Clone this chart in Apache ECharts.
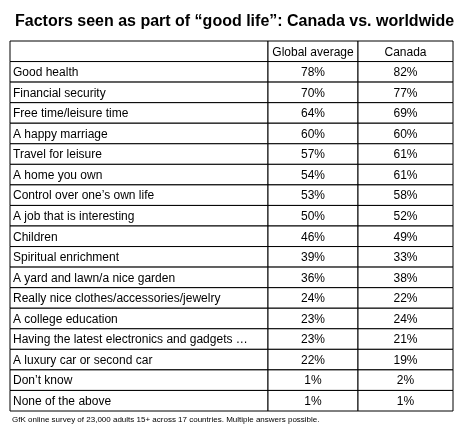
<!DOCTYPE html>
<html style="height: 100%">
<head>
    <meta charset="utf-8">
    <script src="https://cdn.jsdelivr.net/npm/echarts@6/dist/echarts.min.js"></script>
</head>
<body style="height: 100%; margin: 0; background: #fff">
    <div id="main" style="width:463px;height:444px;"></div>
    <script type="text/javascript">
    var factors = ['Good health', 'Financial security', 'Free time/leisure time', 'A happy marriage',
        'Travel for leisure', 'A home you own', 'Control over one\u2019s own life', 'A job that is interesting',
        'Children', 'Spiritual enrichment', 'A yard and lawn/a nice garden',
        'Really nice clothes/accessories/jewelry', 'A college education',
        'Having the latest electronics and gadgets \u2026', 'A luxury car or second car',
        'Don\u2019t know', 'None of the above'];
    var globalAvg = [78, 70, 64, 60, 57, 54, 53, 50, 46, 39, 36, 24, 23, 23, 22, 1, 1];
    var canada = [82, 77, 69, 60, 61, 61, 58, 52, 49, 33, 38, 22, 24, 21, 19, 2, 1];
    var headers = ['', 'Global average', 'Canada'];

    // column edges in axis units
    var colEdges = [0, 258, 348, 443];

    var rows = [''].concat(factors);
    var cells = [];
    for (var c = 0; c < 3; c++) cells.push([0, c, headers[c]]);
    factors.forEach(function (f, i) {
        cells.push([i + 1, 0, f]);
        cells.push([i + 1, 1, globalAvg[i] + '%']);
        cells.push([i + 1, 2, canada[i] + '%']);
    });

    var myChart = echarts.init(document.getElementById('main'));
    var option = {
        animation: false,
        title: {
            text: 'Factors seen as part of \u201cgood life\u201d: Canada vs. worldwide',
            left: 10, top: 9,
            textStyle: { fontFamily: 'Liberation Sans', fontSize: 16, fontWeight: 'bold', color: '#000' }
        },
        graphic: [{
            type: 'text', left: 12, top: 416,
            style: { text: 'GfK online survey of 23,000 adults 15+ across 17 countries. Multiple answers possible.',
                font: '8px "Liberation Sans"', fill: '#000' }
        }],
        grid: { left: 10, right: 10, top: 41, bottom: 33 },
        xAxis: { type: 'value', min: 0, max: 443, show: false },
        yAxis: { type: 'category', data: rows, inverse: true, show: false },
        series: [{
            type: 'custom',
            data: cells,
            renderItem: function (params, api) {
                var r = api.value(0), c = api.value(1);
                var p0 = api.coord([colEdges[c], r]);
                var p1 = api.coord([colEdges[c + 1], r]);
                var h = api.size([0, 1])[1];
                var x = p0[0], y = p0[1] - h / 2, w = p1[0] - p0[0];
                var txt = cells[params.dataIndex][2];
                return {
                    type: 'group',
                    children: [{
                        type: 'rect',
                        shape: { x: x, y: y, width: w, height: h },
                        style: { fill: '#fff', stroke: '#000', lineWidth: 1 }
                    }, {
                        type: 'text',
                        style: {
                            text: txt,
                            x: c === 0 ? x + 3 : x + w / 2,
                            y: y + h / 2 + 1,
                            textAlign: c === 0 ? 'left' : 'center',
                            textVerticalAlign: 'middle',
                            font: '12px "Liberation Sans"', fill: '#000'
                        }
                    }]
                };
            }
        }]
    };
    myChart.setOption(option);
    </script>
</body>
</html>
